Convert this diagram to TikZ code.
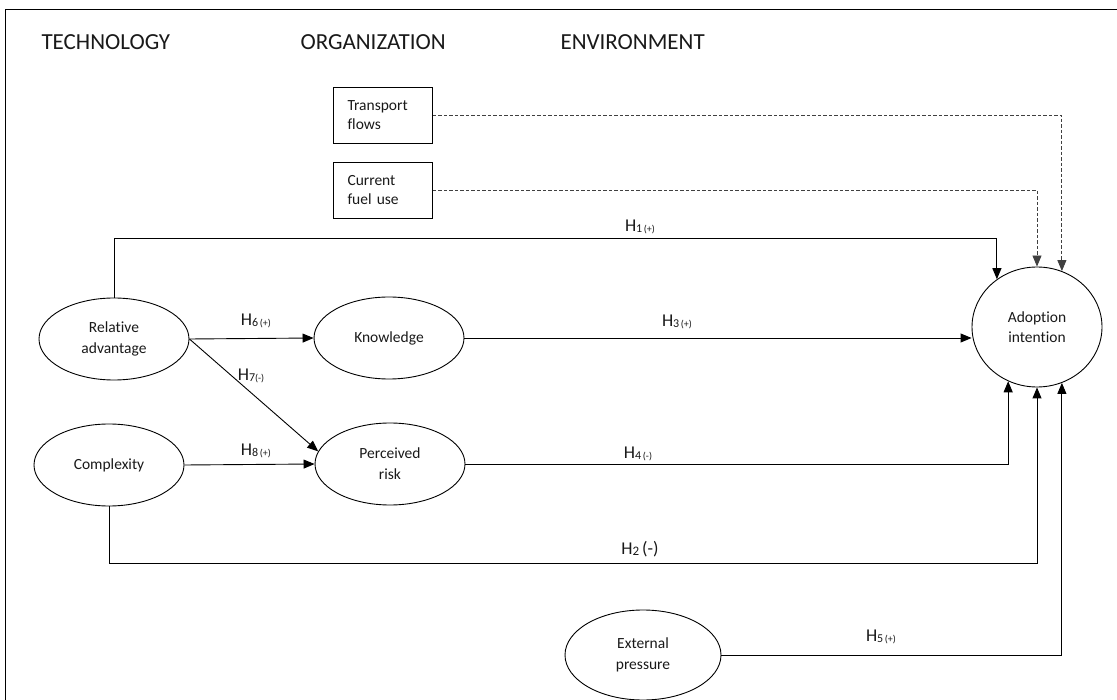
\documentclass[tikz,border=0pt]{standalone}
\usepackage{fontspec}
\setmainfont[Ligatures={NoCommon}]{Carlito}
\usetikzlibrary{arrows.meta,shapes.geometric}
\newcommand{\hyp}[2]{H\raisebox{-1.5pt}{\fontsize{12}{12}\selectfont#1}\raisebox{-1.5pt}{\fontsize{10}{10}\selectfont#2}}
\begin{document}
\begin{tikzpicture}[x=1pt,y=-1pt,
  every node/.style={text=black!90},
  oval/.style={draw, ellipse, line width=0.9pt, inner sep=0pt, align=center,
    minimum width=150pt, minimum height=82pt, font=\fontsize{15.5}{21}\selectfont},
  box/.style={draw, rectangle, line width=0.9pt, inner xsep=14pt, inner ysep=0pt,
    text width=71pt, align=left, minimum height=56pt, font=\fontsize{15.5}{19}\selectfont},
  head/.style={anchor=base west, font=\fontsize{23}{26}\selectfont},
  hlab/.style={font=\fontsize{18}{20}\selectfont, inner sep=1pt},
  arr/.style={line width=0.9pt, -{Triangle[length=11pt,width=9pt]}},
  dsh/.style={line width=0.9pt, black!75, dash pattern=on 3.5pt off 2pt, -{Triangle[length=11pt,width=9pt]}}]
\useasboundingbox (0,0) rectangle (1117,700);
% frame
\draw[line width=1pt] (5,10) rectangle (1130,715);
% headings
\node[head] (tech) at (38,50) {TECHNOLOGY};
\node[head] (org) at (297,50) {ORGANIZATION};
\node[head] (env) at (557,50) {ENVIRONMENT};
% boxes
\node[box] (tf) at (383,115) {Transport\\flows};
\node[box] (cf) at (383,190) {Current\\fuel use};
% ovals
\node[oval] (ra) at (114,339) {Relative\\advantage};
\node[oval] (kn) at (389,338) {Knowledge};
\node[oval] (cx) at (109,465) {Complexity};
\node[oval] (pr) at (390,464) {Perceived\\risk};
\node[oval, minimum width=130pt, minimum height=120pt, font=\fontsize{15.5}{20}\selectfont] (ai) at (1037,327) {Adoption\\intention};
\node[oval, minimum width=156pt, minimum height=90pt] (ep) at (643,655) {External\\pressure};
% connectors
\draw[dsh] (tf.east) -| (ai.66.7);
\draw[dsh] (cf.east) -| (ai.north);
\draw[arr] (ra.north) -- (ra.north |- 0,238) -| (ai.130.2);
\draw[arr] (ra.east) -- (kn.west);
\draw[arr] (ra.east) -- (pr.170.5);
\draw[arr] (kn.east) -- (kn.east -| ai.west);
\draw[arr] (cx.east) -- (pr.west);
\draw[arr] (pr.east) -| (ai.-118.4);
\draw[arr] (cx.south) -- ++(0,57) -| (ai.south);
\draw[arr] (ep.east) -| (ai.-66.7);
% labels
\node[hlab] (l1) at (640,227) {\hyp{1}{\,(+)}};
\node[hlab] (l6) at (256,321) {\hyp{6}{\,(+)}};
\node[hlab] (l3) at (677,322) {\hyp{3}{\,(+)}};
\node[hlab] (l7) at (251,376) {\hyp{7}{(-)}};
\node[hlab] (l8) at (256,451) {\hyp{8}{\,(+)}};
\node[hlab] (l4) at (638,454) {\hyp{4}{\,(-)}};
\node[hlab] (l2) at (640,549) {H\raisebox{-1.5pt}{\fontsize{13}{13}\selectfont 2}\,(-)};
\node[hlab] (l5) at (881,637) {\hyp{5}{\,(+)}};
\end{tikzpicture}
\end{document}
